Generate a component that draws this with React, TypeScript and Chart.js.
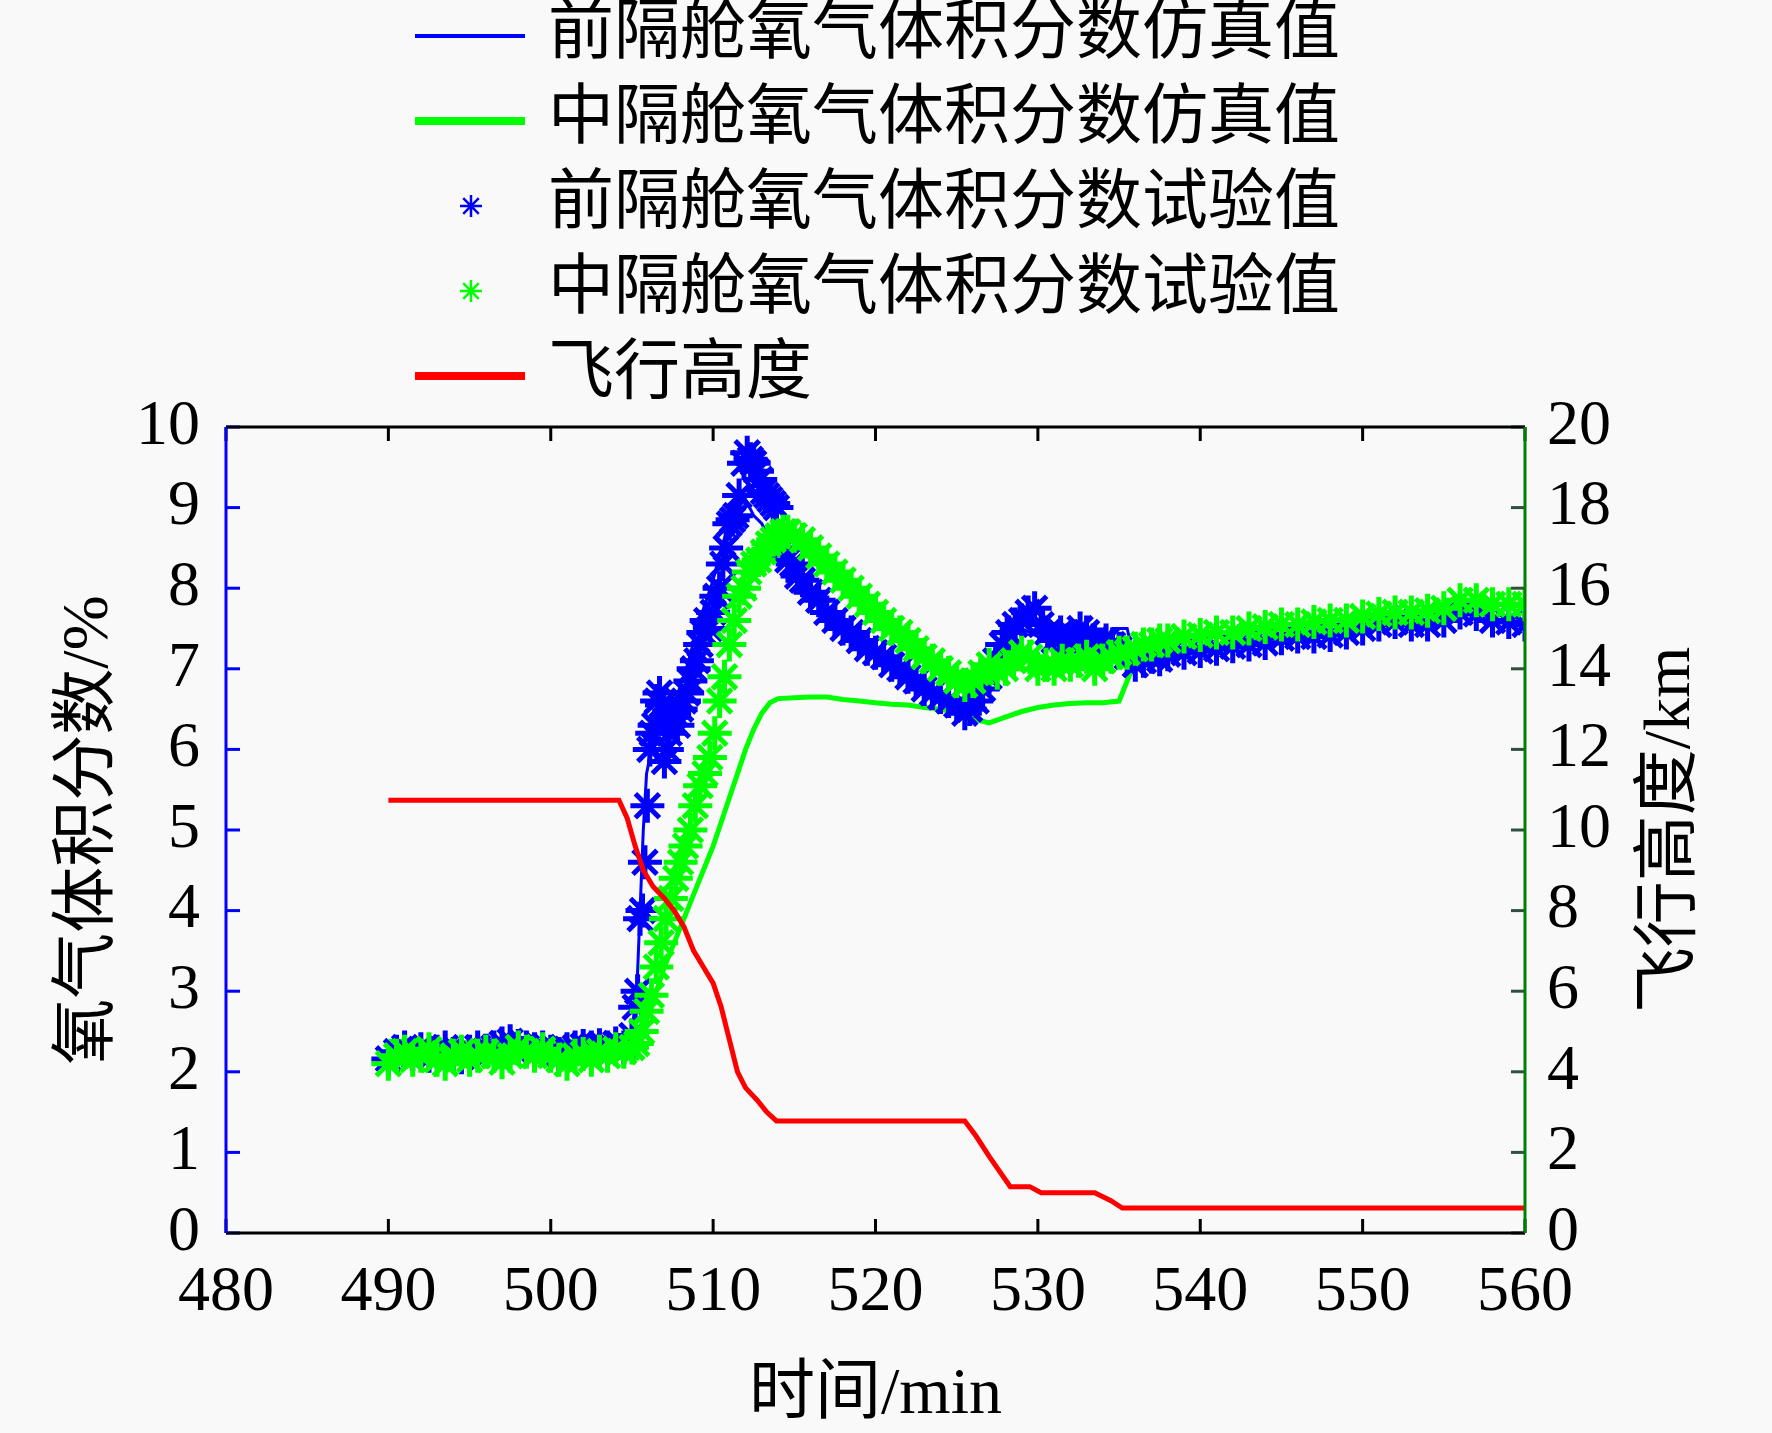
import { useEffect, useRef } from 'react'
import Chart from 'chart.js/auto'

// time axis (min) and tick values
const xTicks = [480, 490, 500, 510, 520, 530, 540, 550, 560]
const leftTicks = [0, 1, 2, 3, 4, 5, 6, 7, 8, 9, 10]
const rightTicks = [0, 2, 4, 6, 8, 10, 12, 14, 16, 18, 20]

const seriesNames = [
  '前隔舱氧气体积分数仿真值',
  '中隔舱氧气体积分数仿真值',
  '前隔舱氧气体积分数试验值',
  '中隔舱氧气体积分数试验值',
  '飞行高度',
]

// front compartment, simulation
const frontSimT = [490, 492, 494, 496, 497, 497.5, 498, 499, 501, 503, 504.5, 505, 505.3, 505.5, 505.7, 505.9, 506.2, 506.6, 507, 507.5, 508, 508.5, 509, 509.5, 510, 510.5, 511, 511.5, 512, 512.5, 513, 513.5, 514, 515, 516, 517, 518, 519, 520, 521, 522, 523, 524, 525, 526, 527, 528, 529, 530, 531, 532, 533, 534, 534.6, 535.5, 536, 537, 538, 540, 542, 544, 546, 548, 550, 552, 554, 556, 557, 558, 560]
const frontSimV = [2.36, 2.35, 2.36, 2.38, 2.42, 2.46, 2.44, 2.38, 2.33, 2.37, 2.4, 2.5, 3.0, 4.0, 5.0, 5.7, 6.0, 6.3, 6.3, 6.5, 6.8, 7.1, 7.5, 7.8, 8.1, 8.5, 8.8, 9.0, 9.1, 8.9, 8.8, 8.6, 8.5, 8.2, 7.95, 7.7, 7.5, 7.35, 7.2, 7.05, 6.9, 6.8, 6.65, 6.5, 6.45, 6.9, 7.3, 7.5, 7.4, 7.3, 7.3, 7.35, 7.3, 7.5, 7.5, 7.05, 7.1, 7.15, 7.2, 7.25, 7.3, 7.35, 7.4, 7.5, 7.55, 7.5, 7.7, 7.65, 7.6, 7.55]

// middle compartment, simulation
const midSimT = [490, 495, 500, 504, 505, 505.5, 506, 506.5, 507, 507.5, 508, 508.5, 509, 509.5, 510, 510.5, 511, 511.5, 512, 512.5, 513, 513.5, 514, 515, 516, 517, 518, 519, 520, 521, 522, 523, 524, 525, 526, 527, 528, 529, 530, 531, 532, 533, 534, 535, 535.5, 536, 537, 538, 540, 542, 544, 546, 548, 550, 552, 554, 556, 558, 560]
const midSimV = [2.38, 2.36, 2.38, 2.36, 2.38, 2.45, 2.7, 3.0, 3.3, 3.55, 3.8, 4.05, 4.3, 4.55, 4.8, 5.1, 5.4, 5.7, 6.0, 6.25, 6.45, 6.58, 6.63, 6.64, 6.65, 6.65, 6.62, 6.6, 6.58, 6.56, 6.55, 6.52, 6.5, 6.45, 6.38, 6.33, 6.4, 6.47, 6.52, 6.55, 6.57, 6.58, 6.58, 6.6, 6.85, 7.1, 7.2, 7.3, 7.4, 7.45, 7.5, 7.55, 7.6, 7.65, 7.7, 7.72, 7.85, 7.8, 7.78]

// front compartment, test
const frontTestT = [490, 490.5, 491, 491.5, 492, 492.5, 493, 493.5, 494, 494.5, 495, 495.5, 496, 496.5, 497, 497.5, 498, 498.5, 499, 499.5, 500, 500.5, 501, 501.5, 502, 502.5, 503, 503.5, 504, 504.5, 505, 505.2, 505.35, 505.5, 505.65, 505.8, 505.95, 506.1, 506.25, 506.4, 506.55, 506.7, 506.85, 507, 507.15, 507.3, 507.45, 507.6, 507.8, 508, 508.2, 508.4, 508.6, 508.8, 509, 509.2, 509.4, 509.6, 509.8, 510, 510.2, 510.4, 510.6, 510.8, 511, 511.2, 511.4, 511.6, 511.9, 512.1, 512.3, 512.5, 512.7, 512.9, 513.1, 513.3, 513.5, 513.7, 513.9, 514.1, 514.3, 514.6, 514.9, 515.2, 515.5, 516, 516.5, 517, 517.5, 518, 518.5, 519, 519.5, 520, 520.5, 521, 521.5, 522, 522.5, 523, 523.5, 524, 524.5, 525, 525.5, 525.8, 526.2, 526.6, 527, 527.4, 527.8, 528.2, 528.6, 529, 529.4, 529.8, 530.2, 530.6, 531, 531.4, 531.8, 532.2, 532.6, 533, 533.4, 533.8, 534.2, 534.6, 535, 535.5, 536, 536.5, 537, 537.5, 538, 539, 540, 541, 542, 543, 544, 545, 546, 547, 548, 549, 550, 551, 552, 553, 554, 555, 556, 557, 558, 559, 560]
const frontTestV = [2.16, 2.25, 2.3, 2.22, 2.28, 2.2, 2.25, 2.3, 2.22, 2.18, 2.25, 2.3, 2.26, 2.3, 2.35, 2.38, 2.32, 2.3, 2.28, 2.3, 2.25, 2.22, 2.28, 2.3, 2.32, 2.3, 2.33, 2.3, 2.35, 2.3, 2.45, 2.8, 3.0, 3.9, 4.0, 4.6, 5.3, 6.0, 6.2, 6.3, 6.6, 6.7, 6.55, 5.85, 6.0, 6.2, 6.4, 6.45, 6.3, 6.5, 6.6, 6.7, 6.85, 7.0, 7.1, 7.3, 7.45, 7.6, 7.5, 7.7, 7.9, 8.0, 8.3, 8.5, 8.8, 8.85, 8.9, 9.15, 9.55, 9.68, 9.6, 9.55, 9.45, 9.35, 9.2, 9.15, 9.1, 9.05, 9.0, 8.6, 8.5, 8.35, 8.3, 8.15, 8.1, 7.95, 7.85, 7.7, 7.6, 7.5, 7.45, 7.35, 7.25, 7.2, 7.15, 7.05, 7.0, 6.9, 6.85, 6.75, 6.7, 6.65, 6.6, 6.55, 6.45, 6.5, 6.6, 6.75, 6.9, 7.1, 7.3, 7.45, 7.55, 7.6, 7.7, 7.75, 7.55, 7.45, 7.35, 7.45, 7.35, 7.4, 7.5, 7.45, 7.35, 7.3, 7.35, 7.3, 7.25, 7.15, 7.05, 7.1, 7.15, 7.12, 7.18, 7.2, 7.22, 7.25, 7.28, 7.3, 7.32, 7.38, 7.4, 7.4, 7.42, 7.45, 7.5, 7.55, 7.58, 7.55, 7.55, 7.6, 7.7, 7.68, 7.6, 7.58, 7.55]

// middle compartment, test
const midTestT = [490, 490.5, 491, 491.5, 492, 492.5, 493, 493.5, 494, 494.5, 495, 495.5, 496, 496.5, 497, 497.5, 498, 498.5, 499, 499.5, 500, 500.5, 501, 501.5, 502, 502.5, 503, 503.5, 504, 504.5, 505, 505.3, 505.6, 505.9, 506.2, 506.5, 506.8, 507.1, 507.4, 507.7, 508, 508.3, 508.6, 508.9, 509.2, 509.5, 509.8, 510.1, 510.4, 510.7, 511, 511.3, 511.6, 511.9, 512.2, 512.5, 512.8, 513.1, 513.4, 513.7, 514, 514.3, 514.6, 515, 515.5, 516, 516.5, 517, 517.5, 518, 518.5, 519, 519.5, 520, 520.5, 521, 521.5, 522, 522.5, 523, 523.5, 524, 524.5, 525, 525.5, 526, 526.5, 527, 527.5, 528, 528.5, 529, 529.5, 530, 530.5, 531, 531.5, 532, 532.5, 533, 533.5, 534, 534.5, 535, 535.5, 536, 536.5, 537, 537.5, 538, 539, 540, 541, 542, 543, 544, 545, 546, 547, 548, 549, 550, 551, 552, 553, 554, 555, 556, 557, 558, 559, 560]
const midTestV = [2.1, 2.2, 2.25, 2.15, 2.2, 2.28, 2.15, 2.1, 2.2, 2.25, 2.15, 2.2, 2.25, 2.2, 2.12, 2.2, 2.3, 2.25, 2.2, 2.28, 2.2, 2.15, 2.1, 2.2, 2.22, 2.15, 2.25, 2.2, 2.28, 2.25, 2.3, 2.35, 2.5, 2.75, 2.95, 3.3, 3.6, 3.9, 4.15, 4.4, 4.6, 4.8, 5.0, 5.3, 5.55, 5.7, 5.9, 6.2, 6.6, 6.9, 7.3, 7.6, 7.9, 8.0, 8.2, 8.3, 8.35, 8.45, 8.55, 8.6, 8.65, 8.7, 8.7, 8.65, 8.6, 8.5, 8.4, 8.3, 8.2, 8.1, 8.0, 7.9, 7.8, 7.7, 7.6, 7.5, 7.45, 7.35, 7.25, 7.15, 7.1, 7.0, 6.95, 6.85, 6.8, 6.85, 6.95, 7.05, 6.95, 7.0, 7.1, 7.2, 7.15, 7.0, 7.05, 7.0, 7.1, 7.05, 7.1, 7.15, 7.0, 7.1, 7.15, 7.2, 7.2, 7.25, 7.3, 7.3, 7.35, 7.35, 7.4, 7.42, 7.45, 7.45, 7.5, 7.52, 7.55, 7.55, 7.58, 7.6, 7.6, 7.65, 7.68, 7.7, 7.7, 7.72, 7.75, 7.85, 7.85, 7.8, 7.8, 7.8]

// flight altitude (km), right axis
const altT = [490, 504.2, 504.7, 505.2, 505.7, 506.3, 507, 507.6, 508.2, 508.8, 509.4, 510, 510.5, 511, 511.5, 512, 512.7, 513.3, 513.9, 525.5, 526.2, 527, 528.3, 529.5, 530.2, 533.5, 534.5, 535.2, 560]
const altV = [10.74, 10.74, 10.3, 9.6, 9.0, 8.6, 8.3, 8.0, 7.6, 7.0, 6.6, 6.2, 5.6, 4.8, 4.0, 3.6, 3.3, 3.0, 2.78, 2.78, 2.4, 1.9, 1.15, 1.15, 1.0, 1.0, 0.8, 0.62, 0.62]

const BLUE = '#0000ff'
const GREEN = '#00ff00'
const RED = '#ff0000'
const BG = '#f9f9f9'
const SERIF = "'Liberation Serif', 'Noto Sans CJK SC', serif"

const zip = (t: number[], v: number[]) => t.map((x, i) => ({ x, y: v[i] }))

let chartInstance: Chart | null = null

export default function App() {
  const chartRef = useRef<HTMLCanvasElement | null>(null)

  useEffect(() => {
    document.body.style.margin = '0'
    document.body.style.background = BG
    if (!chartRef.current) return
    const ctx = chartRef.current.getContext('2d')
    if (!ctx) return

    if (chartInstance) chartInstance.destroy()

    const background = {
      id: 'background',
      beforeDraw(chart: Chart) {
        const c = chart.ctx
        c.save()
        c.fillStyle = BG
        c.fillRect(0, 0, chart.width, chart.height)
        c.restore()
      },
    }

    const frame = {
      id: 'frame',
      afterDraw(chart: Chart) {
        const c = chart.ctx
        const { left, right, top, bottom } = chart.chartArea
        const xs = chart.scales.x
        const yl = chart.scales.y
        const yr = chart.scales.y2
        const tl = 14
        c.save()
        c.lineWidth = 3
        // inward ticks
        c.strokeStyle = '#000'
        xTicks.forEach((t) => {
          const px = xs.getPixelForValue(t)
          c.beginPath()
          c.moveTo(px, bottom)
          c.lineTo(px, bottom - tl)
          c.moveTo(px, top)
          c.lineTo(px, top + tl)
          c.stroke()
        })
        c.strokeStyle = BLUE
        leftTicks.forEach((t) => {
          const py = yl.getPixelForValue(t)
          c.beginPath()
          c.moveTo(left, py)
          c.lineTo(left + tl, py)
          c.stroke()
        })
        c.strokeStyle = '#2f4f3f'
        rightTicks.forEach((t) => {
          const py = yr.getPixelForValue(t)
          c.beginPath()
          c.moveTo(right, py)
          c.lineTo(right - tl, py)
          c.stroke()
        })
        // frame
        c.strokeStyle = '#000'
        c.beginPath()
        c.moveTo(left, top)
        c.lineTo(right, top)
        c.moveTo(left, bottom)
        c.lineTo(right, bottom)
        c.stroke()
        c.strokeStyle = BLUE
        c.beginPath()
        c.moveTo(left, top)
        c.lineTo(left, bottom)
        c.stroke()
        c.strokeStyle = '#008000'
        c.beginPath()
        c.moveTo(right, top)
        c.lineTo(right, bottom)
        c.stroke()

        // axis titles
        c.fillStyle = '#000'
        c.font = `66px ${SERIF}`
        c.textAlign = 'center'
        c.textBaseline = 'middle'
        c.fillText('时间/min', (left + right) / 2, 1396)
        c.save()
        c.translate(90, (top + bottom) / 2)
        c.rotate(-Math.PI / 2)
        c.fillText('氧气体积分数/%', 0, 0)
        c.restore()
        c.save()
        c.translate(1672, (top + bottom) / 2)
        c.rotate(-Math.PI / 2)
        c.fillText('飞行高度/km', 0, 0)
        c.restore()

        // legend
        const rows = [36, 121, 206, 291, 376]
        c.font = `66px ${SERIF}`
        c.textAlign = 'left'
        rows.forEach((ry, i) => {
          if (i === 0 || i === 1 || i === 4) {
            c.strokeStyle = i === 0 ? BLUE : i === 1 ? GREEN : RED
            c.lineWidth = i === 0 ? 4 : 8
            c.beginPath()
            c.moveTo(415, ry)
            c.lineTo(525, ry)
            c.stroke()
          } else {
            c.strokeStyle = i === 2 ? BLUE : GREEN
            c.lineWidth = 2.5
            const r = 11
            const cx = 471
            c.beginPath()
            for (let k = 0; k < 4; k++) {
              const a = (k * Math.PI) / 4
              c.moveTo(cx + r * Math.cos(a), ry + r * Math.sin(a))
              c.lineTo(cx - r * Math.cos(a), ry - r * Math.sin(a))
            }
            c.stroke()
          }
          c.fillStyle = '#000'
          c.fillText(seriesNames[i], 548, ry)
        })
        c.restore()
      },
    }

    chartInstance = new Chart(ctx, {
      type: 'line',
      data: {
        datasets: [
          {
            label: seriesNames[4],
            data: zip(altT, altV),
            yAxisID: 'y2',
            borderColor: RED,
            borderWidth: 5,
            pointRadius: 0,
            order: 0,
          },
          {
            label: seriesNames[3],
            data: zip(midTestT, midTestV),
            yAxisID: 'y',
            showLine: false,
            pointStyle: 'star',
            pointRadius: 17,
            borderWidth: 5,
            borderColor: GREEN,
            backgroundColor: GREEN,
            order: 1,
          },
          {
            label: seriesNames[2],
            data: zip(frontTestT, frontTestV),
            yAxisID: 'y',
            showLine: false,
            pointStyle: 'star',
            pointRadius: 17,
            borderWidth: 5,
            borderColor: BLUE,
            backgroundColor: BLUE,
            order: 2,
          },
          {
            label: seriesNames[1],
            data: zip(midSimT, midSimV),
            yAxisID: 'y',
            borderColor: GREEN,
            borderWidth: 5,
            pointRadius: 0,
            order: 3,
          },
          {
            label: seriesNames[0],
            data: zip(frontSimT, frontSimV),
            yAxisID: 'y',
            borderColor: BLUE,
            borderWidth: 3,
            pointRadius: 0,
            order: 4,
          },
        ],
      },
      options: {
        responsive: false,
        animation: false,
        devicePixelRatio: 1,
        layout: { padding: { top: 427, left: 0, right: 0, bottom: 0 } },
        plugins: {
          legend: { display: false },
          tooltip: { enabled: false },
        },
        scales: {
          x: {
            type: 'linear',
            min: 480,
            max: 560,
            afterFit: (s: any) => {
              s.height = 200
            },
            afterBuildTicks: (s: any) => {
              s.ticks = xTicks.map((v) => ({ value: v }))
            },
            ticks: {
              font: { size: 64, family: SERIF },
              color: '#000',
              padding: 14,
              maxRotation: 0,
            },
            grid: { display: false },
            border: { display: false },
          },
          y: {
            position: 'left',
            min: 0,
            max: 10,
            afterFit: (s: any) => {
              s.width = 226
            },
            afterBuildTicks: (s: any) => {
              s.ticks = leftTicks.map((v) => ({ value: v }))
            },
            ticks: {
              font: { size: 64, family: SERIF },
              color: '#000',
              padding: 18,
            },
            grid: { display: false },
            border: { display: false },
          },
          y2: {
            position: 'right',
            min: 0,
            max: 20,
            afterFit: (s: any) => {
              s.width = 247
            },
            afterBuildTicks: (s: any) => {
              s.ticks = rightTicks.map((v) => ({ value: v }))
            },
            ticks: {
              font: { size: 64, family: SERIF },
              color: '#000',
              padding: 14,
            },
            grid: { display: false },
            border: { display: false },
          },
        },
      },
      plugins: [background, frame],
    })

    return () => {
      chartInstance?.destroy()
      chartInstance = null
    }
  }, [chartRef])

  return (
    <div style={{ width: 1772, height: 1433, background: BG }}>
      <canvas ref={chartRef} width={1772} height={1433} />
    </div>
  )
}
